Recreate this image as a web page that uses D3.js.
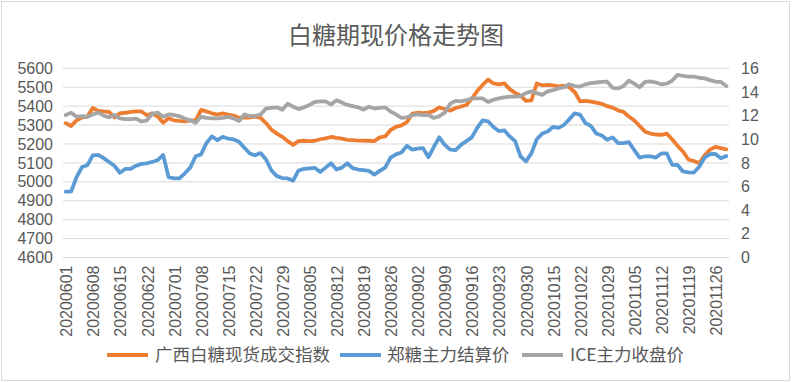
<!DOCTYPE html>
<html><head><meta charset="utf-8">
<script src="https://cdn.jsdelivr.net/npm/d3@7"></script>
<style>body{margin:0;background:#fff}svg{display:block}</style>
</head><body>
<svg id="c" width="792" height="383"></svg>
<script>
const dates = [
"20200601","20200602","20200603","20200604","20200605","20200608","20200609","20200610","20200611","20200612",
"20200615","20200616","20200617","20200618","20200619","20200622","20200623","20200624","20200629","20200630",
"20200701","20200702","20200703","20200706","20200707","20200708","20200709","20200710","20200713","20200714",
"20200715","20200716","20200717","20200720","20200721","20200722","20200723","20200724","20200727","20200728",
"20200729","20200730","20200731","20200803","20200804","20200805","20200806","20200807","20200810","20200811",
"20200812","20200813","20200814","20200817","20200818","20200819","20200820","20200821","20200824","20200825",
"20200826","20200827","20200828","20200831","20200901","20200902","20200903","20200904","20200907","20200908",
"20200909","20200910","20200911","20200914","20200915","20200916","20200917","20200918","20200921","20200922",
"20200923","20200924","20200925","20200928","20200929","20200930","20201009","20201012","20201013","20201014",
"20201015","20201016","20201019","20201020","20201021","20201022","20201023","20201026","20201027","20201028",
"20201029","20201030","20201102","20201103","20201104","20201105","20201106","20201109","20201110","20201111",
"20201112","20201113","20201116","20201117","20201118","20201119","20201120","20201123","20201124","20201125",
"20201126","20201127","20201130"];

const spotIndex = [
5310,5295,5325,5340,5345,5390,5375,5372,5370,5340,
5362,5365,5370,5372,5372,5352,5362,5345,5312,5336,
5325,5322,5320,5325,5325,5380,5372,5362,5355,5362,
5355,5350,5338,5340,5340,5344,5338,5310,5275,5255,
5238,5215,5195,5215,5217,5215,5217,5225,5230,5237,
5232,5228,5222,5220,5218,5218,5217,5215,5235,5240,
5274,5290,5298,5315,5360,5365,5363,5365,5375,5393,
5385,5376,5390,5398,5406,5440,5480,5512,5540,5520,
5515,5520,5490,5470,5455,5428,5430,5520,5510,5512,
5510,5505,5508,5500,5475,5425,5428,5424,5418,5412,
5400,5392,5378,5370,5345,5325,5295,5265,5255,5250,
5248,5255,5225,5190,5160,5118,5110,5098,5140,5170,
5185,5178,5172];

const zhengSettle = [
4948,4948,5025,5078,5088,5140,5142,5125,5105,5085,
5048,5068,5068,5085,5095,5098,5105,5115,5142,5025,
5018,5018,5045,5075,5135,5145,5205,5240,5220,5238,
5228,5224,5212,5180,5150,5140,5152,5118,5060,5030,
5020,5018,5006,5060,5068,5071,5074,5052,5075,5098,
5065,5075,5098,5072,5065,5062,5058,5038,5058,5075,
5128,5145,5155,5190,5170,5175,5178,5130,5185,5235,
5195,5170,5168,5195,5215,5235,5285,5325,5320,5290,
5268,5272,5240,5215,5135,5108,5150,5225,5255,5266,
5290,5285,5300,5330,5362,5355,5310,5295,5255,5245,
5222,5235,5205,5205,5210,5168,5128,5135,5134,5128,
5150,5150,5090,5089,5055,5050,5049,5080,5128,5146,
5147,5124,5136];

const iceClose = [
12.05,12.25,11.9,11.95,11.9,12.1,12.25,12.0,11.85,12.05,
11.77,11.7,11.7,11.75,11.5,11.6,12.15,12.25,11.9,12.1,
12.05,11.95,11.75,11.6,11.4,11.9,11.8,11.77,11.77,11.8,
11.9,11.77,11.55,12.1,11.95,11.97,12.1,12.6,12.65,12.7,
12.5,13.0,12.75,12.55,12.7,12.9,13.15,13.2,13.2,12.95,
13.3,13.1,12.9,12.8,12.7,12.5,12.75,12.6,12.65,12.7,
12.35,12.1,11.8,11.85,12.05,12.1,12.05,12.05,11.8,11.95,
12.25,13.0,13.25,13.2,13.3,13.45,13.45,13.45,13.15,13.35,
13.45,13.55,13.6,13.6,13.65,13.9,14.05,13.9,13.75,14.05,
14.15,14.3,14.4,14.65,14.5,14.45,14.65,14.75,14.8,14.85,
14.87,14.35,14.3,14.5,14.95,14.7,14.4,14.85,14.9,14.8,
14.65,14.7,14.95,15.45,15.35,15.3,15.3,15.2,15.15,15.0,
14.87,14.85,14.5];

const leftTicks = [4600,4700,4800,4900,5000,5100,5200,5300,5400,5500,5600];
const rightTicks = [0,2,4,6,8,10,12,14,16];
const seriesNames = ["广西白糖现货成交指数","郑糖主力结算价","ICE主力收盘价"];
const title = "白糖期现价格走势图";

const svg = d3.select("#c");
const FONT = "'Noto Sans CJK SC','Noto Sans',sans-serif";
const NUM = "'Liberation Sans',Arial,sans-serif";
const TXT = "#595959";
const colors = ["#ED7D31","#5B9BD5","#A5A5A5"];

svg.append("rect").attr("x",1.5).attr("y",1.5).attr("width",788).attr("height",379)
  .attr("fill","#fff").attr("stroke","#d9d9d9");

const L = 63, R = 729, T = 68.3, B = 257.5;
const x = d3.scaleBand().domain(dates).range([L,R]);
const cx = d => x(d) + x.bandwidth()/2;
const yL = d3.scaleLinear().domain([4600,5600]).range([B,T]);
const yR = d3.scaleLinear().domain([0,16]).range([B,T]);

// gridlines
svg.append("g").selectAll("line").data(leftTicks).join("line")
  .attr("x1",L).attr("x2",R).attr("y1",d=>yL(d)).attr("y2",d=>yL(d))
  .attr("stroke","#d9d9d9").attr("stroke-width",1);

// left axis
const la = svg.append("g").attr("transform",`translate(${L},0)`)
  .call(d3.axisLeft(yL).tickValues(leftTicks).tickFormat(d3.format("d")).tickSize(0).tickPadding(10));
la.select(".domain").remove();
la.selectAll("text").attr("font-family",NUM).attr("font-size",16).attr("fill",TXT);

// right axis
const ra = svg.append("g").attr("transform",`translate(${R},0)`)
  .call(d3.axisRight(yR).tickValues(rightTicks).tickFormat(d3.format("d")).tickSize(0).tickPadding(12));
ra.select(".domain").remove();
ra.selectAll("text").attr("font-family",NUM).attr("font-size",16).attr("fill",TXT);

// x axis
const xa = svg.append("g").attr("transform",`translate(0,${B})`)
  .call(d3.axisBottom(x).tickValues(dates.filter((d,i)=>i%5===0)).tickSize(0).tickPadding(0));
xa.select(".domain").remove();
xa.selectAll("text").attr("font-family",NUM).attr("font-size",16).attr("fill",TXT)
  .attr("text-anchor","end").attr("dy","0.35em").attr("y",0)
  .attr("transform","translate(1,8) rotate(-90)");

// lines
const mk = (arr, ys) => d3.line().x((d,i)=>cx(dates[i])).y(d=>ys(d))(arr);
[[spotIndex,yL],[zhengSettle,yL],[iceClose,yR]].forEach(([arr,ys],k)=>{
  svg.append("path").attr("d",mk(arr,ys)).attr("fill","none")
    .attr("stroke",colors[k]).attr("stroke-width",3.8)
    .attr("stroke-linejoin","round").attr("stroke-linecap","round");
});

// title
svg.append("text").attr("x",396).attr("y",44).attr("text-anchor","middle")
  .attr("font-family",FONT).attr("font-size",24).attr("fill",TXT).text(title);

// legend
const lg = [{x:107,t:155},{x:340,t:387},{x:522,t:570}];
lg.forEach((p,k)=>{
  svg.append("line").attr("x1",p.x).attr("x2",p.x+41).attr("y1",355).attr("y2",355)
    .attr("stroke",colors[k]).attr("stroke-width",4);
  svg.append("text").attr("x",p.t).attr("y",361).attr("font-family",FONT)
    .attr("font-size",17.5).attr("fill",TXT).text(seriesNames[k]);
});
</script>
</body></html>
